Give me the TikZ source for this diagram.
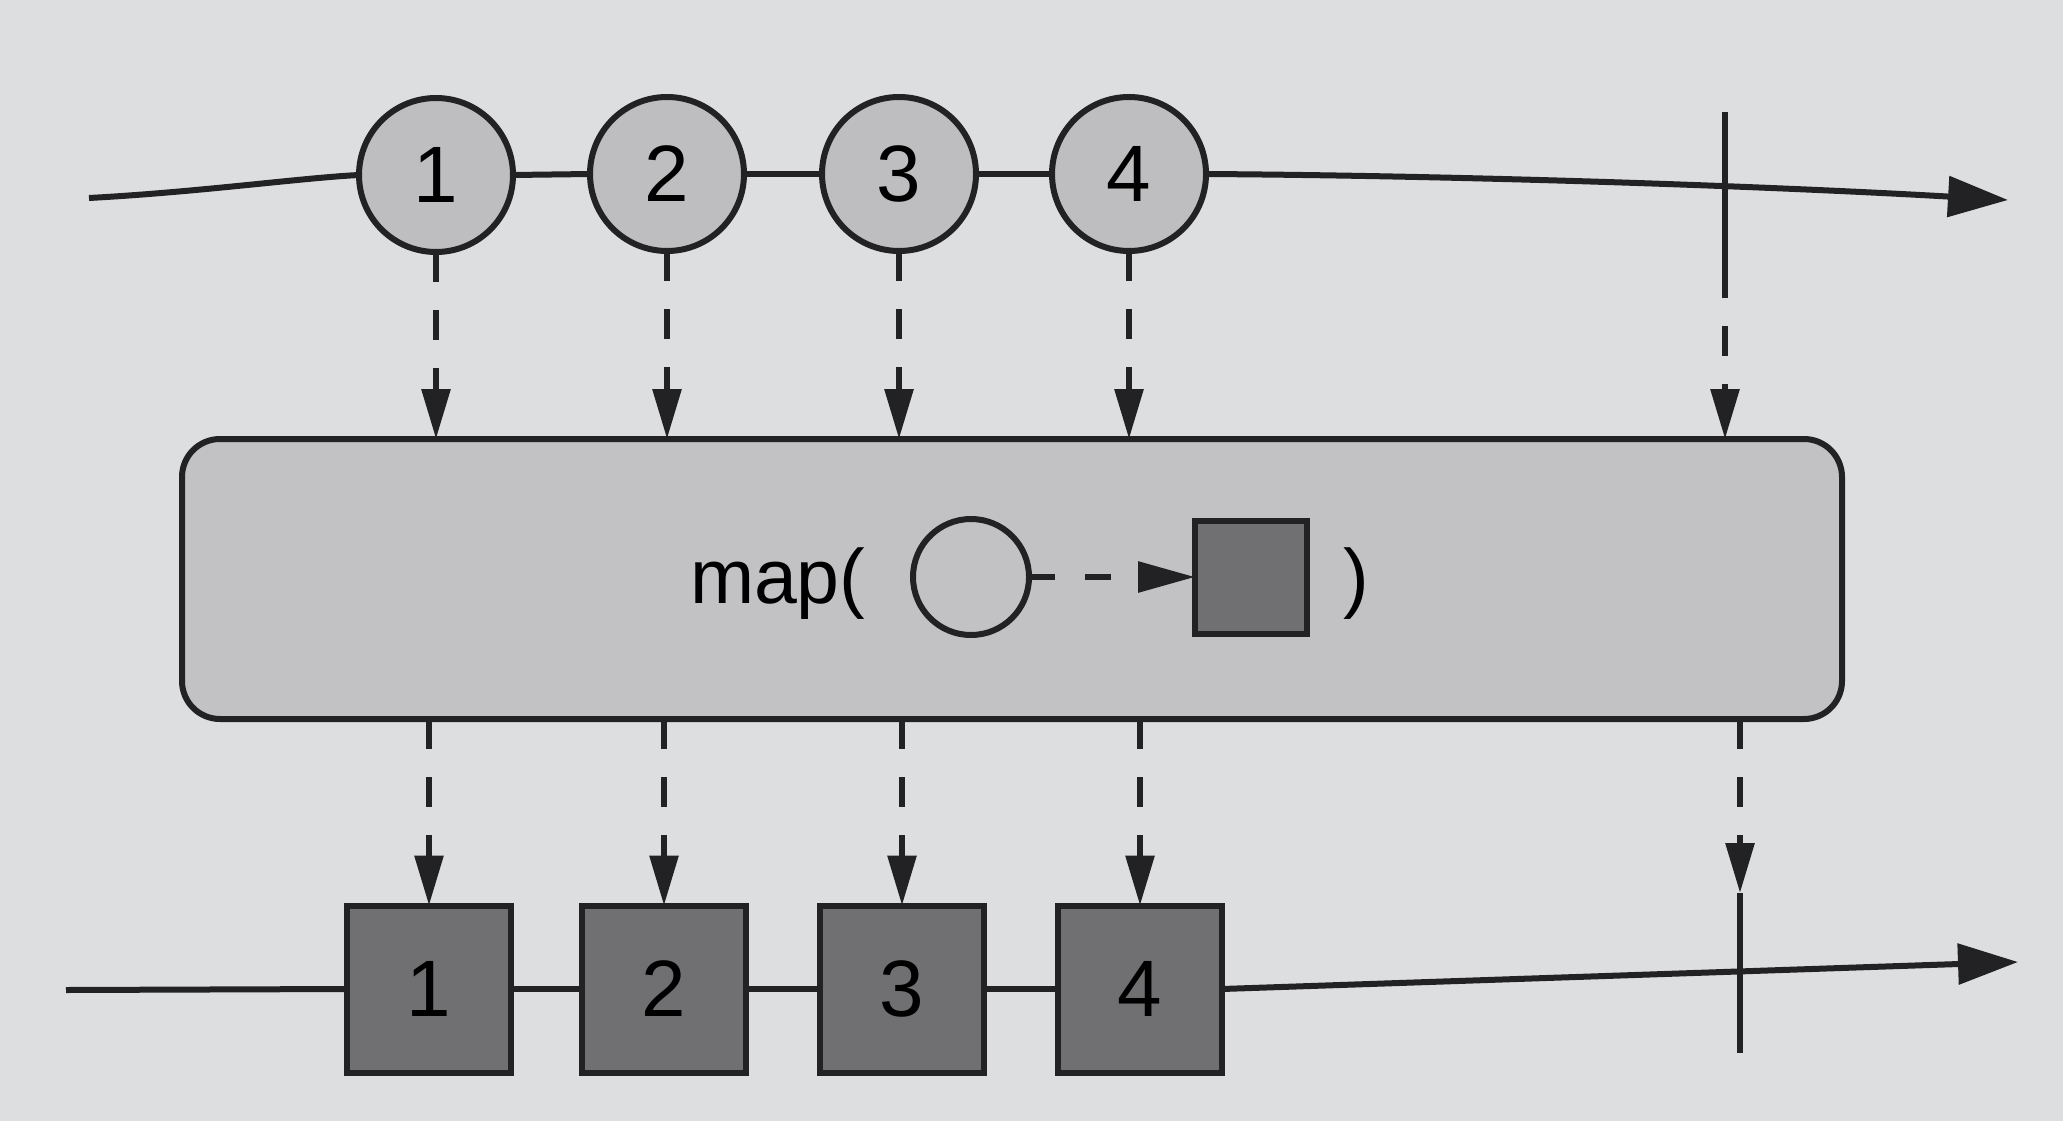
\documentclass[tikz,border=0pt]{standalone}
\usepackage{fontspec}
\setmainfont{Liberation Sans}
\usetikzlibrary{arrows.meta}
\definecolor{bg}{RGB}{221,222,224}
\definecolor{ink}{RGB}{34,34,36}
\definecolor{lightfill}{RGB}{190,190,192}
\definecolor{boxfill}{RGB}{194,194,196}
\definecolor{darkfill}{RGB}{112,112,114}
\begin{document}
\begin{tikzpicture}[x=1pt,y=-1pt,
  every node/.style={inner sep=0pt,outer sep=0pt},
  axis/.style={draw=ink,line width=6pt},
  ticmark/.style={draw=ink,line width=6pt},
  dasharrow/.style={draw=ink,line width=6pt,dash pattern=on 30pt off 28pt,
     -{Triangle[length=50pt,width=28pt]}},
  axisarrow/.style={-{Triangle[length=60pt,width=40pt]}},
  marble/.style={circle,draw=ink,line width=6pt,fill=lightfill,minimum size=154pt,
     font=\fontsize{80}{80}\selectfont},
  outbox/.style={rectangle,draw=ink,line width=6pt,fill=darkfill,minimum width=164pt,
     minimum height=167pt,font=\fontsize{80}{80}\selectfont},
  opbox/.style={rectangle,draw=ink,line width=6pt,fill=boxfill,rounded corners=38pt,
     minimum width=1660pt,minimum height=280pt},
  maptext/.style={font=\fontsize{77}{80}\selectfont}
]
\useasboundingbox (0,0) rectangle (2063,1121);
\fill[bg] (0,0) rectangle (2063,1121);

% operator box
\node[opbox] (box) at (1012,579) {};

% top timeline
\coordinate (ls) at (89,198);
\coordinate (le) at (2008,200);
\node[marble] (c1) at (436,175) {1};
\node[marble] (c2) at (667,174) {2};
\node[marble] (c3) at (899,174) {3};
\node[marble] (c4) at (1129,174) {4};
\draw[axis] (ls) .. controls (200,192) and (300,178) .. (c1.west);
\draw[axis] (c1.east) -- (c2.west);
\draw[axis] (c2.east) -- (c3.west);
\draw[axis] (c3.east) -- (c4.west);
\draw[axis,axisarrow] (c4.east) .. controls (1500,176) and (1800,188) .. (le);
\coordinate (t1a) at (1725,112);
\coordinate (t1b) at (1725,268);
\draw[ticmark] (t1a) -- (t1b);

% arrows into operator
\draw[dasharrow] (c1.south) -- (c1.south |- box.north);
\draw[dasharrow] (c2.south) -- (c2.south |- box.north);
\draw[dasharrow] (c3.south) -- (c3.south |- box.north);
\draw[dasharrow] (c4.south) -- (c4.south |- box.north);
\draw[dasharrow] (t1b) -- (t1b |- box.north);

% operator content
\node[maptext,anchor=base west] (maptxt) at (690,603) {map(};
\node[circle,draw=ink,line width=6pt,minimum size=116pt] (mapc) at (971,577) {};
\node[rectangle,draw=ink,line width=6pt,fill=darkfill,minimum width=112pt,minimum height=113pt] (maps) at (1251,577) {};
\node[maptext,anchor=base] (closep) at (1356,603) {)};
\draw[draw=ink,line width=6pt,dash pattern=on 26pt off 30pt,-{Triangle[length=57pt,width=30pt]}] (mapc.east) -- (maps.west);

% bottom timeline
\node[outbox] (s1) at (429,989) {1};
\node[outbox] (s2) at (664,989) {2};
\node[outbox] (s3) at (902,989) {3};
\node[outbox] (s4) at (1140,989) {4};
\coordinate (bs) at (66,990);
\coordinate (be) at (2018,962);
\draw[axis] (bs) -- (s1.west);
\draw[axis] (s1.east) -- (s2.west);
\draw[axis] (s2.east) -- (s3.west);
\draw[axis] (s3.east) -- (s4.west);
\draw[axis,axisarrow] (s4.east) -- (be);
\coordinate (t2a) at (1740,893);
\coordinate (t2b) at (1740,1053);
\draw[ticmark] (t2a) -- (t2b);

% arrows out of operator
\draw[dasharrow] (s1.north |- box.south) -- (s1.north);
\draw[dasharrow] (s2.north |- box.south) -- (s2.north);
\draw[dasharrow] (s3.north |- box.south) -- (s3.north);
\draw[dasharrow] (s4.north |- box.south) -- (s4.north);
\draw[dasharrow] (t2a |- box.south) -- (t2a);
\end{tikzpicture}
\end{document}
